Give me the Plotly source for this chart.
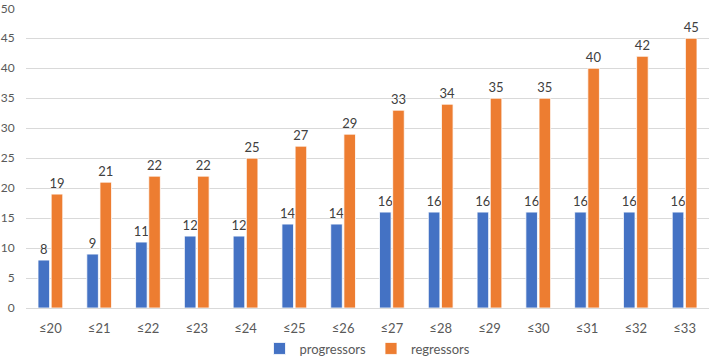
import plotly.graph_objects as go

categories = ["≤20", "≤21", "≤22", "≤23", "≤24", "≤25", "≤26", "≤27", "≤28", "≤29", "≤30", "≤31", "≤32", "≤33"]
progressors = [8, 9, 11, 12, 12, 14, 14, 16, 16, 16, 16, 16, 16, 16]
regressors = [19, 21, 22, 22, 25, 27, 29, 33, 34, 35, 35, 40, 42, 45]
y_ticks = [0, 5, 10, 15, 20, 25, 30, 35, 40, 45, 50]

FONT = "Lato, Open Sans, sans-serif"

fig = go.Figure()
fig.add_trace(go.Bar(
    x=categories, y=progressors, name="progressors",
    marker=dict(color="#4472C4", line=dict(color="#FFFFFF", width=0.8)),
    text=progressors, textposition="outside", cliponaxis=False, constraintext="none",
    textfont=dict(size=13, color="#404040", family=FONT),
))
fig.add_trace(go.Bar(
    x=categories, y=regressors, name="regressors",
    marker=dict(color="#ED7D31", line=dict(color="#FFFFFF", width=0.8)),
    text=regressors, textposition="outside", cliponaxis=False, constraintext="none",
    textfont=dict(size=13, color="#404040", family=FONT),
))

fig.update_layout(
    width=709, height=358,
    margin=dict(l=26, r=0, t=8, b=50, autoexpand=False),
    paper_bgcolor="white", plot_bgcolor="white",
    barmode="group", bargap=0.46, bargroupgap=0.12,
    font=dict(family=FONT, size=13, color="#595959"),
    showlegend=True,
    legend=dict(orientation="h", x=0.5, xanchor="center", y=-0.135, yanchor="middle",
                font=dict(size=13, color="#595959"), itemwidth=30, traceorder="normal"),
    xaxis=dict(showgrid=False, showline=False, ticks="outside", ticklen=8,
               tickcolor="rgba(0,0,0,0)", tickfont=dict(size=13, color="#595959")),
    yaxis=dict(range=[0, 50.05], tickvals=y_ticks, showgrid=True, gridcolor="#D9D9D9", gridwidth=1,
               zeroline=True, zerolinecolor="#D9D9D9", zerolinewidth=1,
               showline=False, ticks="outside", ticklen=8, tickcolor="rgba(0,0,0,0)",
               tickfont=dict(size=12, color="#595959")),
)

fig.write_html("out.html", config={"displayModeBar": False},
               post_script="document.body.style.margin='0';")
